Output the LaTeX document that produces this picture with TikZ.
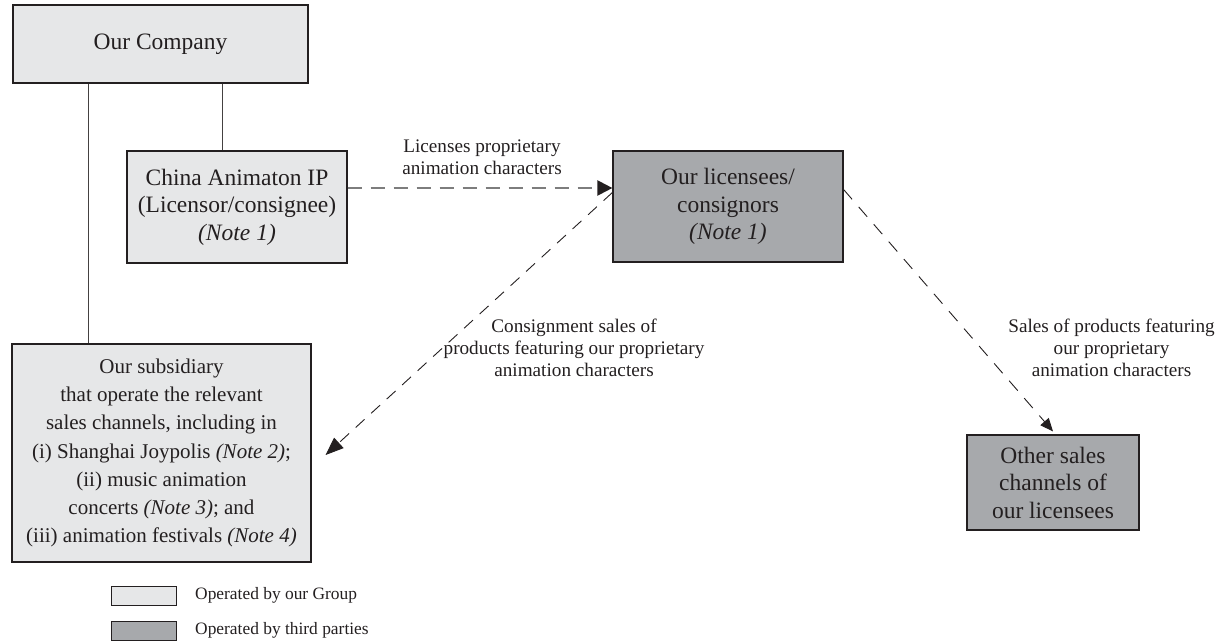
\documentclass[tikz,border=0pt]{standalone}
\usepackage{fontspec}
\setmainfont{Liberation Serif}
\usetikzlibrary{arrows.meta}
\definecolor{inkc}{HTML}{231F20}
\definecolor{groupfill}{HTML}{E6E7E8}
\definecolor{thirdfill}{HTML}{A7A9AC}
\definecolor{flowgray}{HTML}{7D7D7D}
\tikzset{
  entity/.style={draw=inkc, line width=1.2pt, inner sep=0pt, align=center,
    text=inkc, font=\fontsize{23.5}{27.5}\selectfont},
  ours/.style={entity, fill=groupfill},
  theirs/.style={entity, fill=thirdfill},
  link/.style={draw=inkc!85, line width=1pt},
  flowlabel/.style={align=center, text=inkc, inner sep=0pt,
    font=\fontsize{19.2}{22.3}\selectfont},
  legendbox/.style={draw=inkc, line width=1pt, minimum width=65pt,
    minimum height=19pt, inner sep=0pt},
  legendtext/.style={anchor=west, text=inkc, inner sep=0pt,
    font=\fontsize{17.4}{20}\selectfont}
}
\begin{document}
\begin{tikzpicture}[x=1pt, y=-1pt]
\useasboundingbox (0,0) rectangle (1223,642);

% entities
\node[ours, minimum width=295pt, minimum height=78pt] (company) at (160.5,44) {Our Company};
\node[ours, minimum width=220pt, minimum height=112pt] (china) at (237,207)
  {China Animaton IP\\(Licensor/consignee)\\\textit{(Note 1)}};
\node[theirs, minimum width=230pt, minimum height=111pt] (lic) at (728,206.5)
  {Our licensees/\\consignors\\\textit{(Note 1)}};
\node[ours, minimum width=299pt, minimum height=218pt,
  font=\fontsize{21}{28.3}\selectfont] (sub) at (161.5,453)
  {Our subsidiary\\that operate the relevant\\sales channels, including in\\
   (i) Shanghai Joypolis \textit{(Note 2)};\\(ii) music animation\\
   concerts \textit{(Note 3)}; and\\(iii) animation festivals \textit{(Note 4)}};
\node[theirs, minimum width=172pt, minimum height=95pt] (other) at (1053,482.5)
  {Other sales\\channels of\\our licensees};

% ownership lines
\draw[link] ([xshift=-72.5pt]company.south) -- ([xshift=-72.5pt]company.south |- sub.north);
\draw[link] ([xshift=61.5pt]company.south) -- ([xshift=61.5pt]company.south |- china.north);

% flows
\draw[flowgray, line width=2.2pt, dash pattern=on 14pt off 9pt,
  -{Triangle[length=15pt, width=15pt, color=inkc, fill=inkc]}]
  ([yshift=19pt]china.east) -- ([yshift=19pt]china.east -| lic.west);
\draw[inkc, line width=0.9pt, dash pattern=on 12pt off 9pt,
  -{Triangle[length=18pt, width=14pt]}]
  ([yshift=14pt]lic.west) -- ([xshift=14pt, yshift=-2pt]sub.east);
\draw[inkc, line width=0.9pt, dash pattern=on 13pt off 10pt,
  -{Triangle[length=13pt, width=11pt]}]
  ([yshift=17pt]lic.east) -- ([yshift=3pt]other.north);

% flow labels
\node[flowlabel] (lbl1) at (482,157) {Licenses proprietary\\animation characters};
\node[flowlabel] (lbl2) at (574,348) {Consignment sales of\\products featuring our proprietary\\animation characters};
\node[flowlabel] (lbl3) at (1111.5,348) {Sales of products featuring\\our proprietary\\animation characters};

% legend
\node[legendbox, fill=groupfill] (lg1) at (143.5,595.5) {};
\node[legendbox, fill=thirdfill] (lg2) at (143.5,630.5) {};
\node[legendtext] (lt1) at (195,595.5) {Operated by our Group};
\node[legendtext] (lt2) at (195,630.5) {Operated by third parties};
\end{tikzpicture}
\end{document}
